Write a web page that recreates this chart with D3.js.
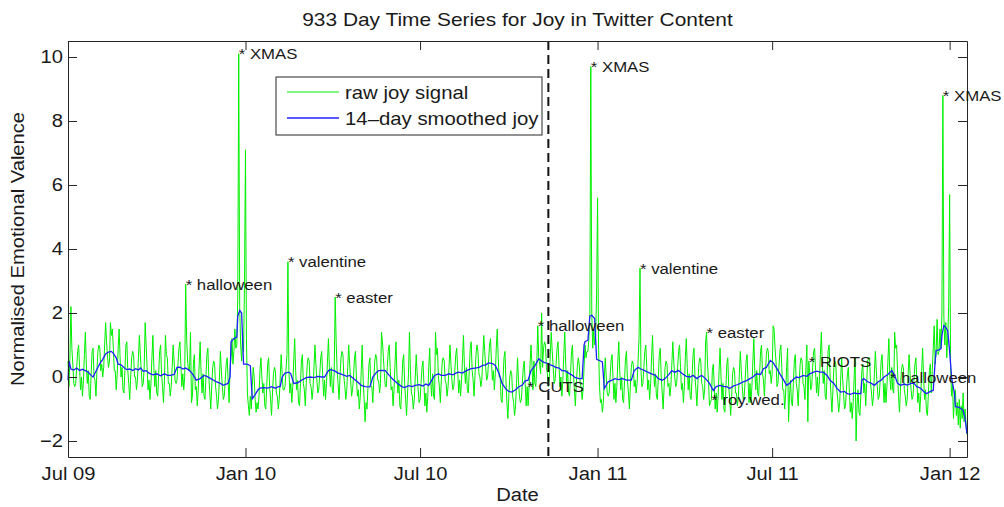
<!DOCTYPE html>
<html>
<head>
<meta charset="utf-8">
<script src="https://cdn.jsdelivr.net/npm/d3@7"></script>
<style>
  body { margin: 0; background: #fff; }
  svg text { font-family: "Liberation Sans", Arial, Helvetica, sans-serif; fill: #1a1a1a; }
</style>
</head>
<body>
<script>
// first day of the series, one value per day after that
const startDay = '2009-07-01';

// raw joy signal, daily (933 days), one row = one week
const rawJoy = [
  0.5,-0.3,0.6,2.2,0.9,0.4,-0.2,  -0.3,-0.2,0.3,0.8,1.0,0.3,-0.4,  0.0,-0.6,-0.1,0.7,1.4,0.4,-0.2,
  0.2,-0.6,-0.7,0.1,0.8,0.9,0.0,  -0.1,-0.6,0.2,0.8,1.0,0.9,0.2,  0.4,0.0,0.3,1.0,1.7,1.1,0.6,
  0.3,0.5,1.7,1.3,1.5,0.9,0.2,  0.2,-0.4,0.1,0.9,1.5,0.6,0.0,  0.3,-0.4,-0.5,0.2,1.0,1.1,0.2,
  -0.2,-0.7,0.0,0.6,0.8,0.7,0.0,  0.0,-0.4,-0.1,0.6,1.3,0.7,0.2,  -0.3,-0.2,0.3,1.7,1.0,0.3,-0.4,
  -0.1,-0.7,-0.2,0.6,1.3,0.3,-0.3,  0.2,-0.5,-0.6,0.1,0.8,1.0,0.1,  -0.3,-0.8,-0.1,1.3,0.7,0.6,-0.2,
  -0.2,-0.6,-0.3,0.3,1.0,0.5,-0.1,  -0.2,-0.1,0.4,0.9,1.1,0.4,-0.3,  0.1,-0.4,0.0,2.9,1.2,0.5,0.2,
  0.2,1.4,-0.8,-0.6,0.4,0.7,-0.4,  -0.3,-0.9,-0.4,0.4,1.1,0.1,-0.5,  0.1,-0.6,-0.7,0.0,0.7,0.9,0.0,
  -0.5,-1.0,-0.3,0.3,0.5,0.4,-0.3,  -0.6,-1.0,-0.7,0.0,0.8,0.2,-0.3,  -0.7,-0.6,-0.1,0.4,0.6,-0.1,-0.8,
  0.3,0.6,1.2,0.4,0.8,1.5,0.9,  1.0,2.5,10.1,2.2,1.0,0.5,1.3,  0.8,3.0,7.1,1.2,-0.5,-0.9,-1.2,
  -0.6,-1.0,-0.3,0.3,0.0,-0.7,-1.1,  -0.8,-1.0,-0.6,0.2,0.6,0.0,-0.5,  -0.2,-0.9,-1.0,-0.3,0.4,0.6,-0.3,
  -0.7,-1.2,-0.5,0.1,0.3,0.2,-0.5,  -0.6,-1.0,-0.7,0.0,0.7,0.1,-0.4,  -0.4,-0.3,0.2,0.7,3.6,0.2,-0.5,
  -0.2,-0.8,-0.3,0.5,1.2,0.2,-0.4,  -0.1,-0.8,-0.9,-0.2,0.5,0.7,-0.2,  -0.4,-0.9,-0.2,0.4,0.6,0.5,-0.2,
  -0.3,-0.7,-0.4,0.3,1.0,0.4,-0.1,  -0.5,-0.4,0.1,0.6,0.8,0.1,-0.6,  -0.1,-0.7,-0.2,0.5,1.2,0.3,-0.3,
  0.3,-0.4,-0.5,0.2,2.5,1.1,0.2,  -0.2,-0.7,0.0,0.6,0.8,0.7,0.0,  -0.3,-0.7,-0.4,0.3,1.0,0.4,-0.1,
  -0.6,-0.4,0.0,0.6,0.8,0.0,-0.6,  -0.4,-1.0,-0.6,0.2,1.0,-0.1,-0.7,  -1.4,-0.8,-1.0,-0.3,0.4,0.6,-0.3,
  -0.3,-0.8,-0.1,0.5,0.7,0.6,-0.1,  -0.1,-0.5,-0.2,1.4,1.1,0.6,0.1,  -0.3,-0.3,0.3,0.8,1.0,0.3,-0.4,
  -0.3,-0.9,-0.4,0.4,1.1,0.1,-0.5,  -0.1,-0.9,-1.0,-0.3,0.5,0.7,-0.2,  -0.7,-1.2,-0.5,0.1,1.4,0.2,-0.5,
  -0.6,-1.0,-0.7,0.0,0.7,0.1,-0.4,  -0.8,-0.7,-0.2,0.3,0.5,-0.2,-0.9,  -0.5,-1.1,-0.6,0.3,0.9,-0.1,-0.6,
  0.1,-0.6,-0.7,1.4,0.7,0.9,0.0,  -0.3,-0.8,-0.1,0.5,0.6,0.5,-0.1,  -0.2,-0.6,-0.3,0.3,1.0,0.4,-0.1,
  -0.4,-0.3,0.2,0.7,0.9,0.2,-0.5,  -0.1,-0.6,-0.1,0.6,1.3,0.3,-0.2,  0.3,-0.4,-0.5,0.2,0.9,1.1,0.2,
  -0.1,-0.6,0.1,0.7,1.0,0.8,0.1,  0.0,-0.3,-0.1,0.6,1.3,0.8,0.3,  -0.1,0.0,0.5,1.0,1.2,0.5,-0.1,
  0.2,-0.4,0.1,0.9,1.5,0.6,0.0,  0.0,-0.7,-0.8,-0.1,0.6,0.8,-0.1,  -0.8,-1.3,-0.6,0.0,0.2,0.1,-0.6,
  -0.8,-1.2,-0.9,-0.2,0.6,-0.1,-0.6,  -0.8,-0.7,-0.2,0.3,0.5,-0.2,-0.9,  -0.3,-0.9,-0.3,0.4,1.0,0.4,-0.4,
  0.5,-0.2,-0.3,0.4,1.6,0.6,0.4,  0.1,2.0,0.3,0.9,1.1,1.0,0.3,  0.1,-0.3,0.0,0.7,1.4,0.8,0.3,
  -0.2,-0.1,0.4,0.9,1.1,0.4,-0.3,  0.0,-0.6,-0.1,0.7,1.4,0.4,-0.2,  0.2,-0.5,-0.6,0.1,0.8,1.0,0.1,
  -0.4,-0.9,-0.2,0.3,0.6,0.4,-0.2,  -0.3,-0.7,-0.4,0.3,1.0,0.6,0.8,  0.8,1.2,2.0,9.7,2.0,0.9,1.5,
  1.0,1.3,2.6,5.6,1.0,-0.3,-0.8,  -0.7,-1.1,-0.8,0.0,0.6,0.0,-0.5,  -0.6,-0.5,0.0,0.5,0.7,0.0,-0.7,
  -0.2,-0.8,-0.3,0.5,1.1,0.2,-0.4,  0.0,-0.7,-0.8,-0.1,0.6,0.8,-0.1,  -0.5,-1.0,-0.3,0.3,0.5,0.4,-0.3,
  -0.1,-0.5,-0.2,0.5,1.2,3.4,0.2,  -0.3,-0.2,0.3,0.8,1.0,0.3,-0.4,  -0.1,-0.7,-0.2,0.6,1.3,0.3,-0.3,
  0.1,-0.6,-0.7,0.0,0.7,0.9,0.0,  -0.5,-1.0,-0.3,0.3,0.5,0.4,-0.3,  -0.2,-0.6,-0.3,0.4,1.1,0.5,0.0,
  -0.3,-0.2,0.3,0.8,1.0,0.3,-0.4,  -0.2,-0.8,-0.3,0.6,1.2,0.3,-0.4,  0.1,-0.6,-0.7,0.0,0.7,0.9,0.0,
  -0.4,-0.9,-0.2,0.4,0.6,0.5,-0.2,  -0.3,-0.7,-0.4,1.1,1.4,0.4,-0.1,  -0.9,-0.8,-0.7,0.2,0.4,-0.3,-1.0,
  -0.5,-1.1,-0.6,0.2,0.9,0.0,-0.7,  -0.2,-1.0,-1.1,-0.4,0.4,0.6,-0.3,  -0.7,-1.2,-0.6,0.1,0.3,0.2,-0.5,
  -0.5,-0.9,-0.6,0.1,0.8,0.2,-0.3,  -0.7,-0.6,-0.1,0.5,0.7,-0.1,-0.8,  -0.2,-0.8,-0.3,0.5,1.2,0.2,-0.4,
  0.2,-0.5,-0.6,0.1,0.8,1.0,0.1,  -0.1,-0.6,0.1,0.7,0.9,0.8,0.1,  0.2,-0.2,0.1,1.6,1.5,0.9,0.5,
  -0.3,-0.2,0.3,0.8,1.0,0.3,-0.4,  -0.4,-1.0,-0.5,0.3,0.9,-1.4,-0.6,  -0.1,-0.8,-0.9,-0.2,0.5,0.7,-0.2,
  -0.4,-0.9,-0.2,0.4,0.6,0.5,-0.2,  -0.3,-0.7,0.3,1.0,-1.4,0.5,0.1,  -0.4,-0.3,0.3,0.8,0.9,0.2,-0.5,
  0.0,-0.6,-0.1,0.7,1.4,0.4,-0.2,  0.2,-0.6,-0.7,0.1,0.8,1.0,0.1,  -0.6,-1.1,-0.4,0.3,0.5,0.4,-0.4,
  -0.7,-1.1,-0.8,-0.1,0.6,0.0,-0.5,  -1.0,-0.9,-0.4,0.1,0.3,-0.4,-1.1,  -0.8,-1.3,-0.8,0.0,0.6,-2.0,-0.9,
  -0.4,-1.1,-1.2,-0.5,0.2,0.4,-0.5,  -0.2,-0.9,-0.2,0.5,0.6,0.6,-0.2,  -0.5,-0.9,-0.6,0.1,0.8,0.2,-0.3,
  -0.7,-0.6,-0.1,0.5,0.7,-0.1,-0.8,  -0.2,-0.8,-0.3,0.5,1.2,0.0,-0.4,  0.3,-0.4,-0.5,1.4,0.9,1.0,0.2,
  -0.6,-1.1,-0.4,0.2,0.4,0.3,-0.4,  -0.6,-0.9,-0.7,0.1,0.7,0.1,-0.4,  -0.7,-0.6,-0.1,0.4,0.6,-0.1,-0.8,
  -0.5,-1.1,-0.6,0.2,0.9,0.0,-0.7,  -0.4,-1.1,-1.2,-0.5,0.2,0.4,-0.5,  0.2,0.9,1.6,0.4,0.8,1.8,0.7,
  0.8,1.5,0.9,2.0,8.8,1.9,1.0,  1.7,0.6,1.2,2.2,5.7,0.3,-0.6,  -0.2,-1.3,-0.6,-0.4,-1.2,-0.8,-1.5,
  -0.7,-1.6,-0.9,-1.3,-0.5,-1.4,-1.0,  -1.5,-1.8
];

// 14-day smoothed joy: day number since startDay, value
const smoothDays = [
  0,1,3,6,9,12,15,18,21,24,26,29,33,36,39,42,45,47,50,52,55,58,61,64,67,70,73,75,78,81,84,88,92,96,100,103,106,110,113,116,
  119,122,126,129,133,137,141,144,148,151,154,158,161,164,166,168,169,172,175,176,178,180,182,186,189,191,194,197,199,203,
  207,211,215,218,220,222,225,229,231,234,238,242,247,251,255,259,263,266,270,272,276,280,284,289,292,296,300,304,308,313,
  316,320,322,326,329,333,337,342,346,349,353,357,360,364,368,371,374,378,380,384,387,391,395,399,402,405,409,413,418,422,
  426,430,433,436,440,443,447,450,454,457,460,464,467,471,474,477,480,484,488,491,494,497,500,503,505,509,512,515,519,523,
  526,530,533,535,536,539,541,543,546,548,552,554,556,560,564,567,571,575,579,584,587,591,594,598,601,605,609,612,616,619,
  623,626,629,633,637,641,645,648,652,655,657,661,665,669,672,676,680,683,686,690,693,697,700,703,707,710,714,718,721,724,
  728,731,735,738,742,745,748,751,755,758,762,766,769,773,776,780,783,787,790,794,797,801,805,808,811,815,818,822,823,825,
  829,833,836,840,843,846,850,854,857,860,863,867,870,874,877,880,884,887,890,894,897,899,900,903,905,906,908,910,912,914,
  916,917,919,920,924,928,930,932
];
const smoothJoy = [
  -0.1,0.5,0.25,0.22,0.28,0.2,0.24,0.2,0.15,0.05,0.0,0.18,0.42,0.55,0.72,0.78,0.8,0.74,0.6,0.4,0.38,0.3,0.23,0.25,0.2,0.26,0.22,0.28,0.18,0.2,0.12,0.07,0.1,0.04,0.1,0.05,0.05,0.08,0.3,0.31,
  0.25,0.28,0.2,0.1,-0.1,-0.05,0.05,0.02,-0.05,-0.1,-0.15,-0.2,-0.26,-0.22,-0.2,0.0,1.1,1.2,1.25,1.9,2.08,2.0,0.4,0.4,0.35,-0.68,-0.55,-0.4,-0.35,-0.33,
  -0.35,-0.3,-0.35,-0.3,-0.3,0.0,0.12,0.15,0.1,-0.2,-0.18,-0.1,-0.02,0.0,-0.02,0.02,0.0,0.0,0.2,0.23,0.2,0.12,0.08,0.02,0.05,-0.05,-0.15,-0.26,-0.3,-0.31,
  0.0,0.15,0.2,0.21,0.2,0.05,-0.08,-0.21,-0.3,-0.33,-0.27,-0.3,-0.26,-0.24,-0.28,-0.22,-0.26,-0.05,0.05,0.1,0.05,0.05,0.1,0.07,0.12,0.15,0.12,0.2,0.26,0.28,
  0.3,0.36,0.38,0.44,0.42,0.36,0.1,-0.2,-0.38,-0.45,-0.47,-0.4,-0.31,-0.25,-0.12,-0.1,0.2,0.35,0.57,0.5,0.45,0.43,0.38,0.35,0.31,0.28,0.2,0.2,0.12,0.05,
  -0.02,-0.05,-0.05,1.0,1.1,1.15,1.9,1.93,1.83,0.55,0.5,0.47,-0.36,-0.15,-0.1,-0.05,-0.08,-0.05,-0.1,-0.1,0.2,0.3,0.25,0.2,0.15,0.1,0.05,-0.05,-0.1,-0.05,
  0.08,0.2,0.15,0.2,0.1,0.02,0.0,0.05,-0.05,0.02,0.05,-0.05,-0.2,-0.42,-0.3,-0.26,-0.3,-0.3,-0.36,-0.28,-0.25,-0.2,-0.15,-0.12,-0.05,0.0,0.1,0.08,0.26,0.3,
  0.52,0.45,0.26,0.1,-0.1,-0.26,-0.2,-0.1,0.0,-0.02,0.05,0.02,0.1,0.15,0.18,0.15,0.15,0.05,-0.1,-0.2,-0.35,-0.47,-0.45,-0.52,-0.54,-0.5,-0.52,-0.52,-0.1,-0.05,
  -0.15,-0.2,-0.26,-0.15,-0.1,0.0,0.08,0.2,0.05,-0.2,-0.26,-0.22,-0.25,-0.2,-0.2,-0.3,-0.35,-0.45,-0.52,-0.45,-0.42,0.5,0.83,0.85,0.89,1.3,1.61,1.55,1.45,0.8,
  0.0,-0.2,-0.5,-0.93,-0.95,-1.04,-1.3,-1.77
];

// annotated events (value is taken from the raw signal on that day)
const eventLabels = ['halloween', 'XMAS', 'valentine', 'easter', 'CUTS', 'halloween', 'XMAS',
                     'valentine', 'easter', 'roy.wed.', 'RIOTS', 'halloween', 'XMAS'];
const eventDates = ['2009-10-31', '2009-12-25', '2010-02-14', '2010-04-04', '2010-10-20', '2010-10-31', '2010-12-25',
                    '2011-02-14', '2011-04-24', '2011-04-29', '2011-08-08', '2011-10-31', '2011-12-25'];
const markerDate = '2010-11-11';

const tickDates = ['2009-07-01', '2010-01-01', '2010-07-01', '2011-01-01', '2011-07-01', '2012-01-01'];
const tickLabels = ['Jul 09', 'Jan 10', 'Jul 10', 'Jan 11', 'Jul 11', 'Jan 12'];
const yTicks = [-2, 0, 2, 4, 6, 8, 10];

const W = 1004, H = 507;
const plotLeft = 68, plotRight = 967, plotTop = 41, plotBottom = 457;
const axisColor = '#262626';

const parse = d3.utcParse('%Y-%m-%d');
const start = parse(startDay);
const dayDate = (i) => d3.utcDay.offset(start, i);

const svg = d3.select('body').append('svg')
  .attr('width', W)
  .attr('height', H);

const x = d3.scaleUtc()
  .domain([start, dayDate(rawJoy.length - 1)])
  .range([plotLeft, plotRight]);
const y = d3.scaleLinear().domain([-2.5, 10.5]).range([plotBottom, plotTop]);

// stretch text a little wider, the original font is broader than Arial
function widen(sel, k) {
  sel.each(function () {
    const w = this.getComputedTextLength();
    this.setAttribute('textLength', w * k);
    this.setAttribute('lengthAdjust', 'spacingAndGlyphs');
  });
}

function styleAxis(g) {
  g.attr('font-family', null).attr('font-size', null);
  g.selectAll('path, line').attr('stroke', axisColor);
  g.selectAll('text').attr('font-size', 18).attr('fill', '#1a1a1a');
}

// lines first, frame drawn over them
const rawLine = d3.line()
  .x((d, i) => x(dayDate(i)))
  .y((d) => y(d));

svg.append('path')
  .datum(rawJoy)
  .attr('fill', 'none')
  .attr('stroke', '#00f000')
  .attr('stroke-width', 1)
  .attr('d', rawLine);

const smoothLine = d3.line()
  .x((d, i) => x(dayDate(smoothDays[i])))
  .y((d) => y(d));

svg.append('path')
  .datum(smoothJoy)
  .attr('fill', 'none')
  .attr('stroke', '#2020ff')
  .attr('stroke-width', 1.3)
  .attr('d', smoothLine);

// dashed marker
svg.append('line')
  .attr('x1', x(parse(markerDate))).attr('x2', x(parse(markerDate)))
  .attr('y1', plotTop).attr('y2', plotBottom)
  .attr('stroke', '#111')
  .attr('stroke-width', 2)
  .attr('stroke-dasharray', '9,5');

// axes on all four sides, ticks pointing inwards
const xDates = tickDates.map(parse);

const gBottom = svg.append('g')
  .attr('transform', `translate(0,${plotBottom})`)
  .call(d3.axisBottom(x).tickValues(xDates).tickFormat((d, i) => tickLabels[i])
    .tickSizeInner(-9).tickSizeOuter(0).tickPadding(10));
styleAxis(gBottom);

const gTop = svg.append('g')
  .attr('transform', `translate(0,${plotTop})`)
  .call(d3.axisTop(x).tickValues(xDates).tickFormat('')
    .tickSizeInner(-9).tickSizeOuter(0));
styleAxis(gTop);

const gLeft = svg.append('g')
  .attr('transform', `translate(${plotLeft},0)`)
  .call(d3.axisLeft(y).tickValues(yTicks).tickFormat((d) => d < 0 ? '\u2212' + Math.abs(d) : d)
    .tickSizeInner(-9).tickSizeOuter(0).tickPadding(5));
styleAxis(gLeft);

const gRight = svg.append('g')
  .attr('transform', `translate(${plotRight},0)`)
  .call(d3.axisRight(y).tickValues(yTicks).tickFormat('')
    .tickSizeInner(-9).tickSizeOuter(0));
styleAxis(gRight);

widen(gBottom.selectAll('text'), 1.12);
widen(gLeft.selectAll('text'), 1.12);

// event annotations
const events = eventLabels.map((label, i) => {
  const date = parse(eventDates[i]);
  const idx = d3.utcDay.count(start, date);
  return { label, date, value: rawJoy[idx] };
});

const evText = svg.append('g').selectAll('text')
  .data(events)
  .join('text')
  .attr('x', (d) => x(d.date))
  .attr('y', (d) => y(d.value))
  .attr('dominant-baseline', 'central')
  .attr('font-size', 15.5)
  .text((d) => '* ' + d.label);
widen(evText, 1.08);

// title and axis labels
const title = svg.append('text')
  .attr('x', (plotLeft + plotRight) / 2)
  .attr('y', 19)
  .attr('text-anchor', 'middle')
  .attr('dominant-baseline', 'central')
  .attr('font-size', 19)
  .text('933 Day Time Series for Joy in Twitter Content');
widen(title, 1.1);

const xLabel = svg.append('text')
  .attr('x', (plotLeft + plotRight) / 2)
  .attr('y', 495)
  .attr('text-anchor', 'middle')
  .attr('dominant-baseline', 'central')
  .attr('font-size', 18)
  .text('Date');
widen(xLabel, 1.12);

const yLabel = svg.append('text')
  .attr('transform', `translate(18,${(plotTop + plotBottom) / 2}) rotate(-90)`)
  .attr('text-anchor', 'middle')
  .attr('dominant-baseline', 'central')
  .attr('font-size', 18)
  .text('Normalised Emotional Valence');
widen(yLabel, 1.12);

// legend
const legend = svg.append('g');
legend.append('rect')
  .attr('x', 276).attr('y', 77)
  .attr('width', 266).attr('height', 58)
  .attr('fill', '#fff')
  .attr('stroke', axisColor)
  .attr('stroke-width', 1);

const legendItems = [
  { name: 'raw joy signal', color: '#00f000', width: 1 },
  { name: '14\u2013day smoothed joy', color: '#2020ff', width: 1.3 }
];
legendItems.forEach((item, i) => {
  const ly = 92 + i * 26;
  legend.append('line')
    .attr('x1', 287).attr('x2', 339)
    .attr('y1', ly).attr('y2', ly)
    .attr('stroke', item.color)
    .attr('stroke-width', item.width);
  const t = legend.append('text')
    .attr('x', 345).attr('y', ly)
    .attr('dominant-baseline', 'central')
    .attr('font-size', 18.5)
    .text(item.name);
  widen(t, 1.1);
});
</script>
</body>
</html>
